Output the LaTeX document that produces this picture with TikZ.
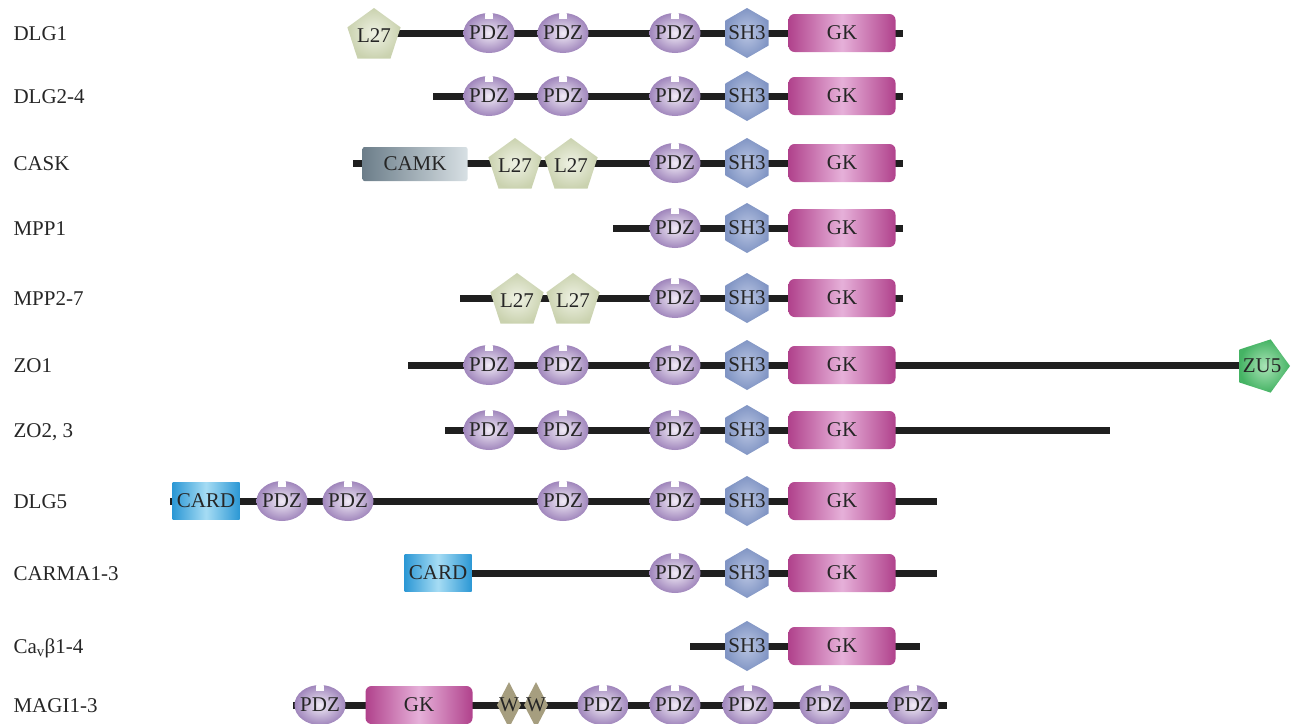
\documentclass[tikz,border=0pt]{standalone}
\usepackage{fontspec}
\setmainfont{Liberation Serif}
\usetikzlibrary{shapes.geometric}
\definecolor{pdzIn}{HTML}{F1EBF6}
\definecolor{pdzOut}{HTML}{A086BC}
\definecolor{sh3In}{HTML}{BAC6E3}
\definecolor{sh3Out}{HTML}{8195C4}
\definecolor{gkMid}{HTML}{E6B0D9}
\definecolor{gkEdge}{HTML}{B0428C}
\definecolor{l27In}{HTML}{EFF2E4}
\definecolor{l27Out}{HTML}{CAD2AF}
\definecolor{camkDark}{HTML}{6C7E8A}
\definecolor{camkLight}{HTML}{D8E0E4}
\definecolor{cardMid}{HTML}{A6DCF4}
\definecolor{cardEdge}{HTML}{2C98D5}
\definecolor{zuIn}{HTML}{A9E4B6}
\definecolor{zuOut}{HTML}{45B364}
\definecolor{wwCol}{HTML}{A69E7F}
\newcommand{\dname}[1]{\makebox[0pt]{#1}}

\begin{document}
\begin{tikzpicture}[x=1pt, y=-1pt,
  every node/.style={font=\fontsize{21}{24}\selectfont, text=black!85},
  prot/.style={anchor=base west},
  chain/.style={line width=7pt, black!88},
  pdz/.style={ellipse, inner sep=0pt, minimum width=51pt, minimum height=40pt,
              shading=radial, inner color=pdzIn, outer color=pdzOut,
              path picture={\fill[white] ([xshift=-4pt,yshift=1pt]path picture bounding box.north)
                rectangle ([xshift=4pt,yshift=-6pt]path picture bounding box.north);}},
  sh3/.style={regular polygon, regular polygon sides=6, shape border rotate=30,
              minimum size=50pt, inner sep=0pt,
              shading=radial, inner color=sh3In, outer color=sh3Out},
  gk/.style={rectangle, rounded corners=6pt, minimum width=107pt, minimum height=38pt,
             left color=gkEdge, right color=gkEdge, middle color=gkMid},
  l27/.style={regular polygon, regular polygon sides=5, minimum size=56pt, inner sep=0pt,
              shading=radial, inner color=l27In, outer color=l27Out},
  camk/.style={rectangle, rounded corners=2pt, minimum width=105pt, minimum height=34pt,
               left color=camkDark, right color=camkLight},
  card/.style={rectangle, minimum width=67pt, minimum height=37pt,
               left color=cardEdge, right color=cardEdge, middle color=cardMid},
  zu5/.style={regular polygon, regular polygon sides=5, shape border rotate=-90,
              minimum size=56pt, inner sep=0pt,
              shading=radial, inner color=zuIn, outer color=zuOut},
  ww/.style={diamond, inner sep=0pt, minimum width=24pt, minimum height=46pt, fill=wwCol}
]
\useasboundingbox (0,0) rectangle (1292,723);

% DLG1
\node[prot] (n1) at (10,40) {DLG1};
\coordinate (b1) at (395,33); \coordinate (e1) at (903,33);
\draw[chain] (b1) -- (e1);
\node[l27] (l1a) at (374,36) {\dname{L27}};
\node[pdz] (p1a) at (489,33) {\dname{PDZ}};
\node[pdz] (p1b) at (563,33) {\dname{PDZ}};
\node[pdz] (p1c) at (675,33) {\dname{PDZ}};
\node[sh3] (s1) at (747,33) {\dname{SH3}};
\node[gk] (g1) at (842,33) {GK};

% DLG2-4
\node[prot] (n2) at (10,103) {DLG2-4};
\coordinate (b2) at (433,96); \coordinate (e2) at (903,96);
\draw[chain] (b2) -- (e2);
\node[pdz] (p2a) at (489,96) {\dname{PDZ}};
\node[pdz] (p2b) at (563,96) {\dname{PDZ}};
\node[pdz] (p2c) at (675,96) {\dname{PDZ}};
\node[sh3] (s2) at (747,96) {\dname{SH3}};
\node[gk] (g2) at (842,96) {GK};

% CASK
\node[prot] (n3) at (10,170) {CASK};
\coordinate (b3) at (353,163); \coordinate (e3) at (903,163);
\draw[chain] (b3) -- (e3);
\node[camk] (c3) at (415,164) {CAMK};
\node[l27] (l3a) at (515,166) {\dname{L27}};
\node[l27] (l3b) at (571,166) {\dname{L27}};
\node[pdz] (p3c) at (675,163) {\dname{PDZ}};
\node[sh3] (s3) at (747,163) {\dname{SH3}};
\node[gk] (g3) at (842,163) {GK};

% MPP1
\node[prot] (n4) at (10,235) {MPP1};
\coordinate (b4) at (613,228); \coordinate (e4) at (903,228);
\draw[chain] (b4) -- (e4);
\node[pdz] (p4c) at (675,228) {\dname{PDZ}};
\node[sh3] (s4) at (747,228) {\dname{SH3}};
\node[gk] (g4) at (842,228) {GK};

% MPP2-7
\node[prot] (n5) at (10,305) {MPP2-7};
\coordinate (b5) at (460,298); \coordinate (e5) at (903,298);
\draw[chain] (b5) -- (e5);
\node[l27] (l5a) at (517,301) {\dname{L27}};
\node[l27] (l5b) at (573,301) {\dname{L27}};
\node[pdz] (p5c) at (675,298) {\dname{PDZ}};
\node[sh3] (s5) at (747,298) {\dname{SH3}};
\node[gk] (g5) at (842,298) {GK};

% ZO1
\node[prot] (n6) at (10,372) {ZO1};
\coordinate (b6) at (408,365); \coordinate (e6) at (1245,365);
\draw[chain] (b6) -- (e6);
\node[pdz] (p6a) at (489,365) {\dname{PDZ}};
\node[pdz] (p6b) at (563,365) {\dname{PDZ}};
\node[pdz] (p6c) at (675,365) {\dname{PDZ}};
\node[sh3] (s6) at (747,365) {\dname{SH3}};
\node[gk] (g6) at (842,365) {GK};
\node[zu5] (z6) at (1262,366) {\dname{ZU5}};

% ZO2, 3
\node[prot] (n7) at (10,437) {ZO2, 3};
\coordinate (b7) at (445,430); \coordinate (e7) at (1110,430);
\draw[chain] (b7) -- (e7);
\node[pdz] (p7a) at (489,430) {\dname{PDZ}};
\node[pdz] (p7b) at (563,430) {\dname{PDZ}};
\node[pdz] (p7c) at (675,430) {\dname{PDZ}};
\node[sh3] (s7) at (747,430) {\dname{SH3}};
\node[gk] (g7) at (842,430) {GK};

% DLG5
\node[prot] (n8) at (10,508) {DLG5};
\coordinate (b8) at (170,501); \coordinate (e8) at (937,501);
\draw[chain] (b8) -- (e8);
\node[card] (c8) at (206,501) {CARD};
\node[pdz] (p8a) at (282,501) {\dname{PDZ}};
\node[pdz] (p8b) at (348,501) {\dname{PDZ}};
\node[pdz] (p8c) at (563,501) {\dname{PDZ}};
\node[pdz] (p8d) at (675,501) {\dname{PDZ}};
\node[sh3] (s8) at (747,501) {\dname{SH3}};
\node[gk] (g8) at (842,501) {GK};

% CARMA1-3
\node[prot] (n9) at (10,580) {CARMA1-3};
\coordinate (b9) at (404,573); \coordinate (e9) at (937,573);
\draw[chain] (b9) -- (e9);
\node[card] (c9) at (438,573) {CARD};
\node[pdz] (p9d) at (675,573) {\dname{PDZ}};
\node[sh3] (s9) at (747,573) {\dname{SH3}};
\node[gk] (g9) at (842,573) {GK};

% Cav beta1-4
\node[prot] (n10) at (10,653) {Ca\textsubscript{v}β1-4};
\coordinate (b10) at (690,646); \coordinate (e10) at (920,646);
\draw[chain] (b10) -- (e10);
\node[sh3] (s10) at (747,646) {\dname{SH3}};
\node[gk] (g10) at (842,646) {GK};

% MAGI1-3
\node[prot] (n11) at (10,712) {MAGI1-3};
\coordinate (b11) at (293,705); \coordinate (e11) at (947,705);
\draw[chain] (b11) -- (e11);
\node[pdz] (p11a) at (320,705) {\dname{PDZ}};
\node[gk] (g11) at (419,705) {GK};
\node[ww] (w11a) at (509,705) {\dname{W}};
\node[ww] (w11b) at (536,705) {\dname{W}};
\node[pdz] (p11b) at (603,705) {\dname{PDZ}};
\node[pdz] (p11c) at (675,705) {\dname{PDZ}};
\node[pdz] (p11d) at (748,705) {\dname{PDZ}};
\node[pdz] (p11e) at (825,705) {\dname{PDZ}};
\node[pdz] (p11f) at (913,705) {\dname{PDZ}};
\end{tikzpicture}
\end{document}
